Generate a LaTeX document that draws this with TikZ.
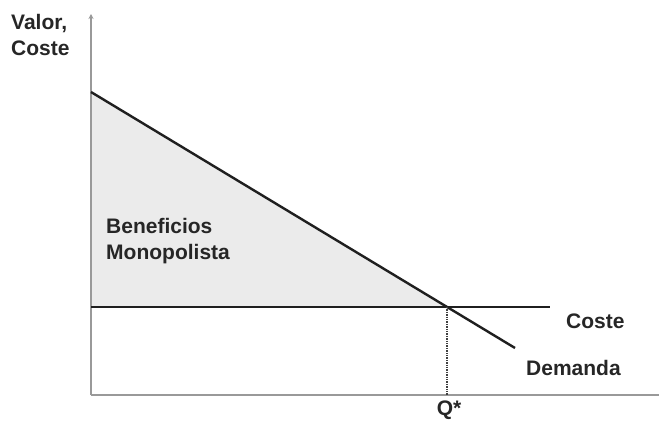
\documentclass[tikz,border=0pt]{standalone}
\usepackage{fontspec}
\setmainfont{Liberation Sans}
\usetikzlibrary{arrows.meta,calc,positioning}

\begin{document}
\begin{tikzpicture}[x=1pt,y=-1pt,
    axis/.style={draw=black!40,line width=2.2pt},
    curve/.style={draw=black!88,line width=2.4pt},
    label/.style={font=\fontsize{21}{26}\selectfont\bfseries,text=black!85,inner sep=0pt,align=left},
  ]
  \useasboundingbox (0,0) rectangle (659,423);
  % points
  \coordinate (o) at (91,395);
  \coordinate (ytop) at (91,14);
  \coordinate (xend) at (659,395);
  \coordinate (d0) at (91,92);
  \coordinate (d1) at (515,348);
  \coordinate (c0) at (91,307);
  \coordinate (c1) at (550,307);
  \coordinate (eq) at ($(d0)!0.8398!(d1)$);
  \coordinate (q) at (eq |- o);

  % surplus area
  \fill[black!8] (d0) -- (eq) -- (c0) -- cycle;

  % axes
  \draw[axis,-{Stealth[length=5pt,width=5pt]}] (o) -- (ytop);
  \draw[axis] (o) -- (xend);

  % lines
  \draw[curve] (c0) -- (c1);
  \draw[curve] (d0) -- (d1);
  \draw[black!75,line width=1.4pt,densely dotted] (eq) -- (q);

  % labels
  \node[label,anchor=west] (ylab) at (11,35) {Valor,\\Coste};
  \node[label,anchor=west] (area) at (106,241) {Beneficios\\Monopolista};
  \node[label,anchor=west] (clab) at (566,321) {Coste};
  \node[label,anchor=west] (dlab) at (526,368) {Demanda};
  \node[label] (qlab) at (449,410) {Q*};
\end{tikzpicture}
\end{document}
